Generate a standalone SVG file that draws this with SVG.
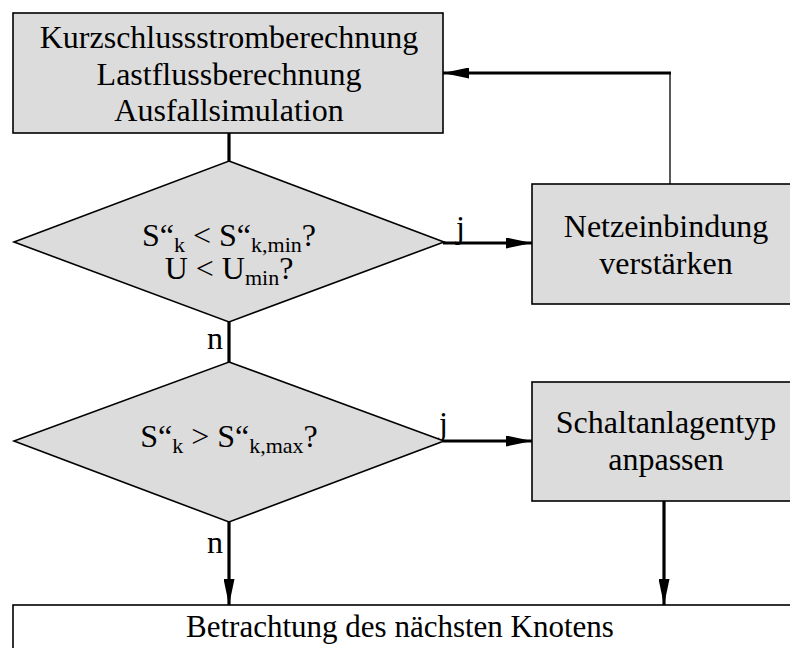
<svg xmlns="http://www.w3.org/2000/svg" width="790" height="648" viewBox="0 0 790 648">
<defs>
<style>
.box{fill:#dcdcdc;stroke:#000;stroke-width:1.6}
.wbox{fill:#fff;stroke:#000;stroke-width:1.6}
.t{font-family:"Liberation Serif","Times New Roman",serif;font-size:32px;fill:#000}
.c{text-anchor:middle}
.thick{stroke:#000;stroke-width:3.2;fill:none}
.thin{stroke:#000;stroke-width:1.3;fill:none}
.sub{font-size:22px}
</style>
<marker id="ah" viewBox="0 0 26 11" refX="26" refY="5.5" markerWidth="26" markerHeight="11" markerUnits="userSpaceOnUse" orient="auto">
<path d="M0,0 L26,5.5 L0,11 Z" fill="#000"/>
</marker>
</defs>
<rect width="790" height="648" fill="#fff"/>
<g id="connectors">
<line class="thick" x1="229" y1="133" x2="229" y2="161"/>
<line class="thick" x1="229" y1="322" x2="229" y2="362"/>
<line class="thick" x1="443" y1="243" x2="532" y2="243" marker-end="url(#ah)"/>
<line class="thick" x1="443" y1="441" x2="532" y2="441" marker-end="url(#ah)"/>
<line class="thick" x1="229" y1="522" x2="229" y2="605" marker-end="url(#ah)"/>
<line class="thick" x1="664" y1="501" x2="664" y2="605" marker-end="url(#ah)"/>
<line class="thin" x1="670" y1="184" x2="670" y2="73"/>
<line class="thick" x1="671" y1="73" x2="443" y2="73" marker-end="url(#ah)"/>
<text class="t" x="207" y="349">n</text>
<text class="t" x="207" y="553">n</text>
<text class="t" x="456" y="238">j</text>
<text class="t" x="439" y="434">j</text>
</g>
<g id="calc">
<rect class="box" x="13" y="13" width="430" height="120"/>
<text class="t c" x="229" y="48">Kurzschlussstromberechnung</text>
<text class="t c" x="229" y="85">Lastflussberechnung</text>
<text class="t c" x="229" y="121">Ausfallsimulation</text>
</g>
<g id="dec1">
<polygon class="box" points="229,161 444,242 229,322 14,242"/>
<text class="t c" x="229" y="246">S“<tspan class="sub" dy="6">k</tspan><tspan dy="-6"> &lt; S“</tspan><tspan class="sub" dy="6">k,min</tspan><tspan dy="-6">?</tspan></text>
<text class="t c" x="229" y="279">U &lt; U<tspan class="sub" dy="6">min</tspan><tspan dy="-6">?</tspan></text>
</g>
<g id="net">
<rect class="box" x="532" y="184" width="270" height="120"/>
<text class="t c" x="666" y="237">Netzeinbindung</text>
<text class="t c" x="666" y="274">verstärken</text>
</g>
<g id="dec2">
<polygon class="box" points="229,362 444,441 229,522 14,441"/>
<text class="t c" x="229" y="447">S“<tspan class="sub" dy="6">k</tspan><tspan dy="-6"> &gt; S“</tspan><tspan class="sub" dy="6">k,max</tspan><tspan dy="-6">?</tspan></text>
</g>
<g id="schalt">
<rect class="box" x="532" y="382" width="270" height="119"/>
<text class="t c" x="666" y="433">Schaltanlagentyp</text>
<text class="t c" x="666" y="470">anpassen</text>
</g>
<g id="next">
<rect class="wbox" x="13" y="605" width="800" height="60"/>
<text class="t c" x="400" y="637" style="font-size:31px">Betrachtung des nächsten Knotens</text>
</g>
</svg>
